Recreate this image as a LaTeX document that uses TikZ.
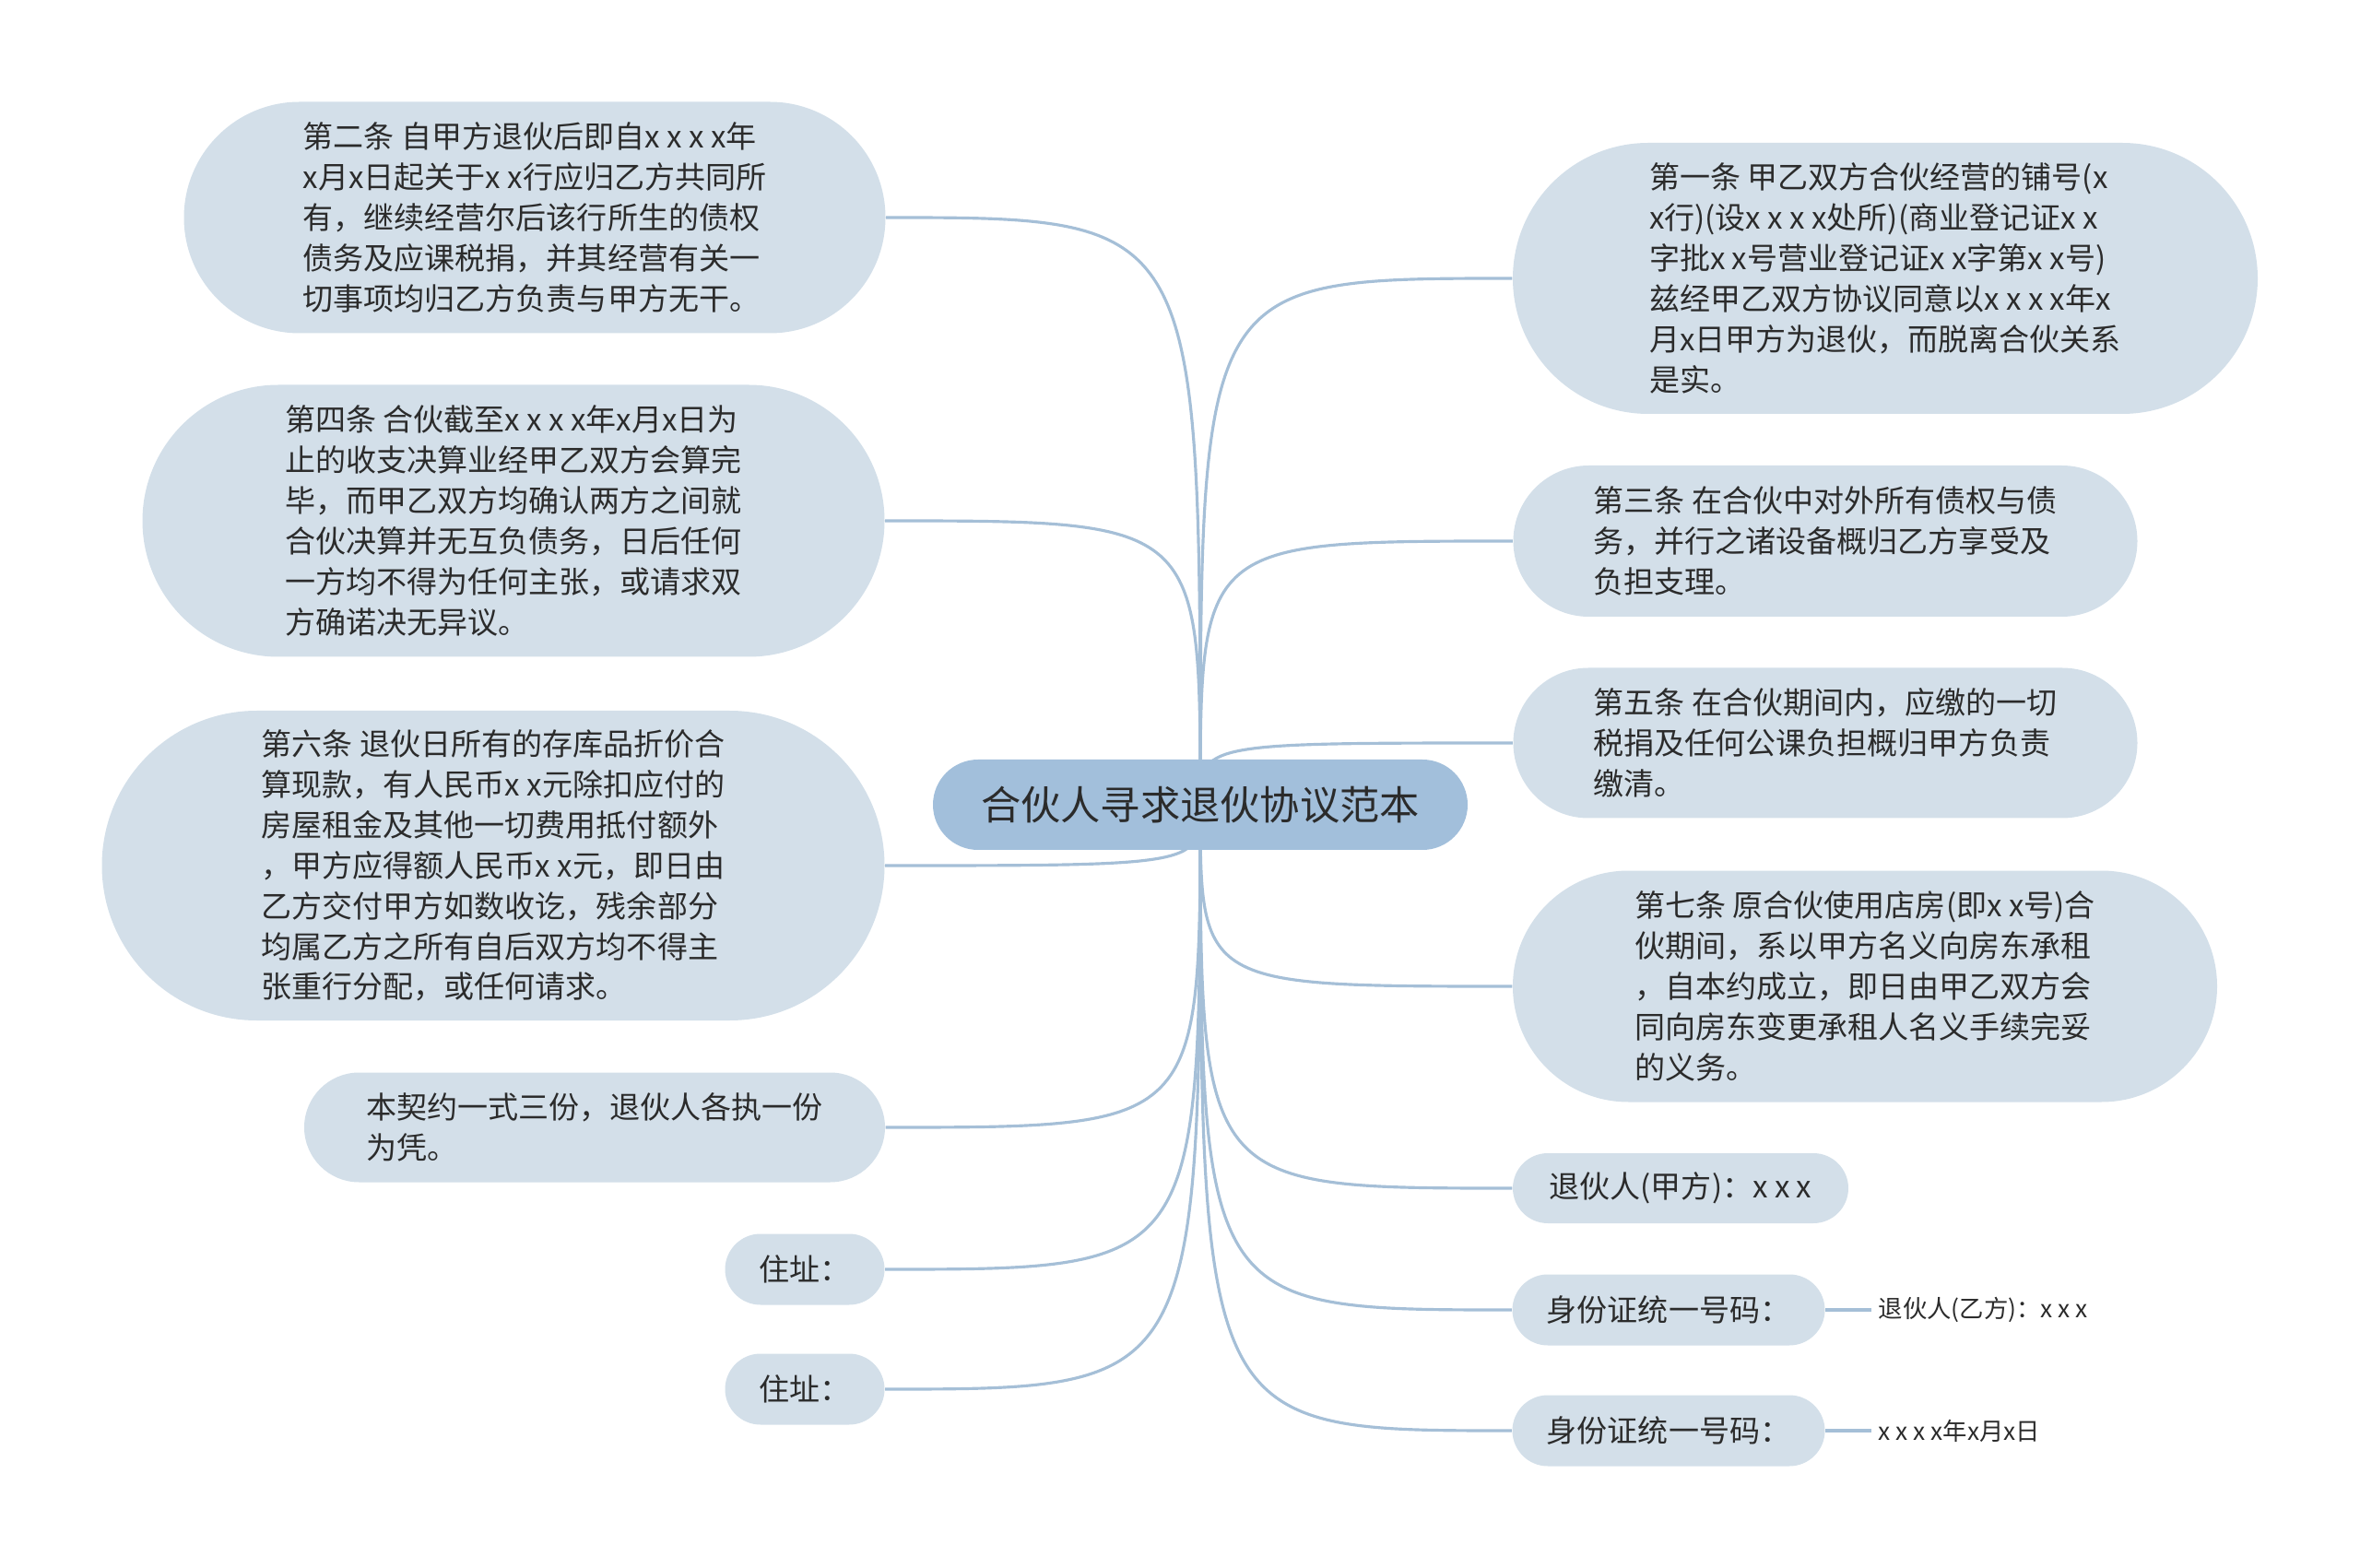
\documentclass[tikz,border=0pt]{standalone}
\usepackage{fontspec}
\setmainfont{Noto Sans CJK SC}
\usetikzlibrary{shapes.misc,backgrounds}

\definecolor{leaffill}{HTML}{D3DFE9}
\definecolor{rootfill}{HTML}{A2BFDB}
\definecolor{linkcol}{HTML}{A5BFD7}
\definecolor{textcol}{HTML}{2B2B2B}

\begin{document}
\begin{tikzpicture}[
  x=1cm, y=-1cm,
  every node/.style={text=textcol, align=left, inner sep=0pt},
  leaf/.style={rounded rectangle, fill=leaffill, font=\fontsize{9.4}{12.5}\selectfont},
  topic/.style={rounded rectangle, fill=rootfill, font=\fontsize{12.3}{15}\selectfont},
  note/.style={anchor=west, inner xsep=2pt, font=\fontsize{7.5}{9}\selectfont},
  link/.style={draw=linkcol, line width=0.9pt}
]
\useasboundingbox (0,0) rectangle (25.60,17.01);

\node[topic, minimum width=5.80cm, minimum height=0.98cm] (root) at (13.02,8.73) {合伙人寻求退伙协议范本};

% left side
\node[leaf, minimum width=7.61cm, minimum height=2.51cm] (a2) at (5.80,2.36) {第二条 自甲方退伙后即自x x x x年\\x月x日起关于x x行应归乙方共同所\\有，继续经营尔后该行所生的债权\\债务及应课税捐，并其经营有关一\\切事项均归乙方负责与甲方无干。};
\node[leaf, minimum width=8.05cm, minimum height=2.95cm] (a4) at (5.57,5.65) {第四条 合伙截至x x x x年x月x日为\\止的收支决算业经甲乙双方会算完\\毕，而甲乙双方均确认两方之间就\\合伙决算并无互负债务，日后任何\\一方均不得为任何主张，或请求双\\方确诺决无异议。};
\node[leaf, minimum width=8.49cm, minimum height=3.36cm] (a6) at (5.35,9.39) {第六条 退伙日所有的存库品折价合\\算现款，有人民币x x元除扣应付的\\房屋租金及其他一切费用抵付额外\\，甲方应得额人民币x x元，即日由\\乙方交付甲方如数收讫，残余部分\\均属乙方之所有自后双方均不得主\\张重行分配，或任何请求。};
\node[leaf, minimum width=6.30cm, minimum height=1.19cm] (a8) at (6.45,12.23) {本契约一式三份，退伙人各执一份\\为凭。};
\node[leaf, minimum width=1.73cm, minimum height=0.77cm] (z1) at (8.73,13.77) {住址：};
\node[leaf, minimum width=1.73cm, minimum height=0.77cm] (z2) at (8.73,15.07) {住址：};

% right side
\node[leaf, minimum width=8.08cm, minimum height=2.94cm] (a1) at (20.45,3.02) {第一条 甲乙双方合伙经营的铺号(x\\x行)(设x x x x处所)(商业登记证x x\\字批x x号营业登记证x x字第x x号)\\兹经甲乙双方协议同意以x x x x年x\\月x日甲方为退伙，而脱离合伙关系\\是实。};
\node[leaf, minimum width=6.77cm, minimum height=1.64cm] (a3) at (19.80,5.87) {第三条 在合伙中对外所有债权与债\\务，并行之诸设备概归乙方享受及\\负担支理。};
\node[leaf, minimum width=6.77cm, minimum height=1.63cm] (a5) at (19.80,8.06) {第五条 在合伙期间内，应缴的一切\\税捐及任何公课负担概归甲方负责\\缴清。};
\node[leaf, minimum width=7.64cm, minimum height=2.51cm] (a7) at (20.23,10.70) {第七条 原合伙使用店房(即x x号)合\\伙期间，系以甲方名义向房东承租\\，自本约成立，即日由甲乙双方会\\同向房东变更承租人名义手续完妥\\的义务。};
\node[leaf, minimum width=3.64cm, minimum height=0.76cm] (p1) at (18.23,12.89) {退伙人(甲方)：x x x};
\node[leaf, minimum width=3.39cm, minimum height=0.77cm] (p2) at (18.10,14.21) {身份证统一号码：};
\node[leaf, minimum width=3.39cm, minimum height=0.77cm] (p3) at (18.10,15.52) {身份证统一号码：};
\node[note] (c1) at (20.30,14.21) {退伙人(乙方)：x x x};
\node[note] (c2) at (20.30,15.52) {x x x x年x月x日};

\begin{scope}[on background layer]
\foreach \n in {a2,a4,a6,a8,z1,z2}
  \draw[link] (root.center) .. controls (root.center |- \n.east) .. (\n.east);
\foreach \n in {a1,a3,a5,a7,p1,p2,p3}
  \draw[link] (root.center) .. controls (root.center |- \n.west) .. (\n.west);
\end{scope}
\draw[link] (p2.east) -- (c1.west);
\draw[link] (p3.east) -- (c2.west);
\end{tikzpicture}
\end{document}
